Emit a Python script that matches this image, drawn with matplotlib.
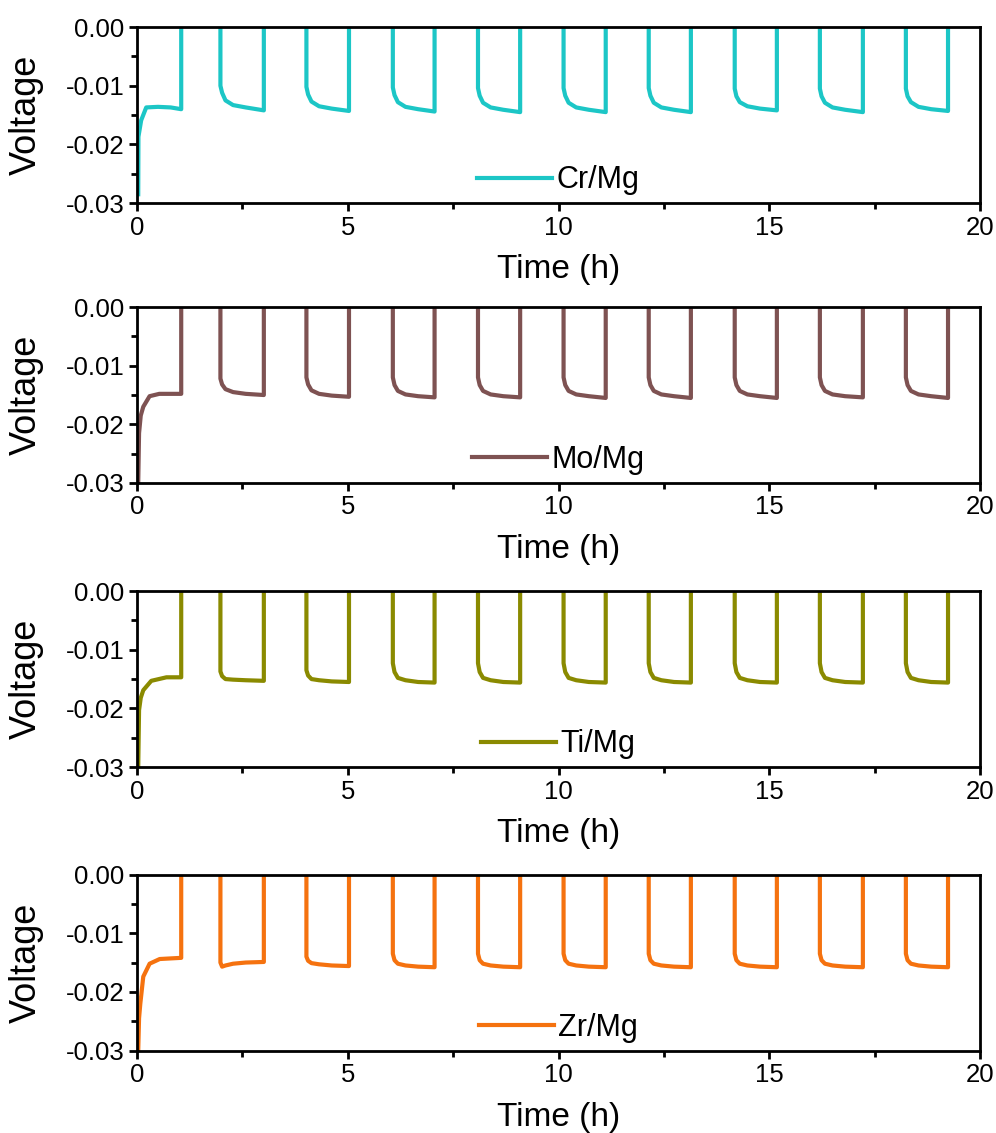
import matplotlib
matplotlib.use("Agg")
import matplotlib.pyplot as plt
from matplotlib.ticker import MultipleLocator

plt.rcParams['font.family'] = ['Liberation Sans', 'DejaVu Sans']

#times (h) where each rest ends (current switched on again) and where each step ends
step_on = [1.98, 4.02, 6.07, 8.09, 10.12, 12.14, 14.18, 16.20, 18.24]
step_off = [1.05, 3.01, 5.03, 7.06, 9.09, 11.12, 13.14, 15.18, 17.22, 19.24]
#voltage during the rests sits just above the top of the axis
rest_v = 0.001

#time after a step starts, at which the levels below are read
offsets = [0.0, 0.04, 0.12, 0.3, 0.6]

#first step of each cell
cr_init_t = [0.03, 0.035, 0.1, 0.22, 0.5, 0.8, 1.05]
cr_init_v = [-0.0285, -0.0187, -0.0159, -0.0137, -0.0136, -0.0137, -0.0140]
mo_init_t = [0.03, 0.05, 0.09, 0.15, 0.3, 0.53, 1.05]
mo_init_v = [-0.030, -0.0215, -0.0185, -0.0170, -0.0152, -0.0148, -0.0148]
ti_init_t = [0.03, 0.05, 0.09, 0.15, 0.34, 0.7, 1.05]
ti_init_v = [-0.030, -0.0203, -0.0182, -0.0169, -0.0153, -0.0147, -0.0147]
zr_init_t = [0.03, 0.05, 0.08, 0.15, 0.3, 0.54, 1.05]
zr_init_v = [-0.030, -0.0245, -0.0220, -0.0174, -0.0152, -0.0144, -0.0142]

#levels of the later steps: at the offsets above, then at the end of the step
cr_steps = [
    [-0.0100, -0.0112, -0.0125, -0.0133, -0.0137, -0.0142],
    [-0.0102, -0.0115, -0.0127, -0.0135, -0.0139, -0.0143],
    [-0.0103, -0.0116, -0.0128, -0.0136, -0.0140, -0.0144],
    [-0.0104, -0.0117, -0.0129, -0.0137, -0.0141, -0.0145],
    [-0.0104, -0.0117, -0.0129, -0.0137, -0.0141, -0.0145],
    [-0.0104, -0.0117, -0.0129, -0.0137, -0.0141, -0.0145],
    [-0.0105, -0.0118, -0.0128, -0.0135, -0.0139, -0.0142],
    [-0.0105, -0.0118, -0.0129, -0.0137, -0.0141, -0.0145],
    [-0.0105, -0.0118, -0.0128, -0.0136, -0.0140, -0.0143],
]
mo_steps = [
    [-0.0122, -0.0132, -0.0140, -0.0145, -0.0148, -0.0150],
    [-0.0120, -0.0132, -0.0142, -0.0148, -0.0151, -0.0153],
    [-0.0120, -0.0133, -0.0143, -0.0149, -0.0152, -0.0154],
    [-0.0120, -0.0133, -0.0143, -0.0149, -0.0152, -0.0154],
    [-0.0120, -0.0133, -0.0143, -0.0149, -0.0152, -0.0155],
    [-0.0120, -0.0133, -0.0143, -0.0149, -0.0152, -0.0155],
    [-0.0120, -0.0133, -0.0143, -0.0149, -0.0152, -0.0155],
    [-0.0120, -0.0133, -0.0143, -0.0149, -0.0152, -0.0154],
    [-0.0120, -0.0133, -0.0143, -0.0149, -0.0152, -0.0155],
]
ti_steps = [
    [-0.0137, -0.0145, -0.0150, -0.0151, -0.0152, -0.0153],
    [-0.0135, -0.0144, -0.0150, -0.0152, -0.0154, -0.0155],
    [-0.0123, -0.0138, -0.0148, -0.0152, -0.0155, -0.0156],
    [-0.0123, -0.0138, -0.0148, -0.0152, -0.0155, -0.0156],
    [-0.0123, -0.0138, -0.0148, -0.0152, -0.0155, -0.0156],
    [-0.0123, -0.0138, -0.0148, -0.0152, -0.0155, -0.0156],
    [-0.0123, -0.0138, -0.0148, -0.0152, -0.0155, -0.0156],
    [-0.0123, -0.0138, -0.0148, -0.0152, -0.0155, -0.0156],
    [-0.0123, -0.0138, -0.0148, -0.0152, -0.0155, -0.0156],
]
zr_steps = [
    [-0.0150, -0.0157, -0.0155, -0.0152, -0.0150, -0.0149],
    [-0.0140, -0.0147, -0.0151, -0.0153, -0.0155, -0.0156],
    [-0.0135, -0.0146, -0.0152, -0.0155, -0.0157, -0.0158],
    [-0.0135, -0.0146, -0.0152, -0.0155, -0.0157, -0.0158],
    [-0.0135, -0.0146, -0.0152, -0.0155, -0.0157, -0.0158],
    [-0.0135, -0.0146, -0.0152, -0.0155, -0.0157, -0.0158],
    [-0.0135, -0.0146, -0.0152, -0.0155, -0.0157, -0.0158],
    [-0.0135, -0.0146, -0.0152, -0.0155, -0.0157, -0.0158],
    [-0.0135, -0.0146, -0.0152, -0.0155, -0.0157, -0.0158],
]

labels = ["Cr/Mg", "Mo/Mg", "Ti/Mg", "Zr/Mg"]
colors = ["#1CC6C6", "#7E5252", "#8A8A00", "#F5720F"]


#join the first step, the rests and the later steps into one trace
def trace(init_t, init_v, steps):
    t = list(init_t)
    v = list(init_v)
    t.append(step_off[0])
    v.append(rest_v)
    for i, levels in enumerate(steps):
        start = step_on[i]
        t.append(start)
        v.append(rest_v)
        for dt, lv in zip(offsets, levels[:-1]):
            t.append(start + dt)
            v.append(lv)
        t.append(step_off[i + 1])
        v.append(levels[-1])
        t.append(step_off[i + 1])
        v.append(rest_v)
    return t, v


traces = [
    trace(cr_init_t, cr_init_v, cr_steps),
    trace(mo_init_t, mo_init_v, mo_steps),
    trace(ti_init_t, ti_init_v, ti_steps),
    trace(zr_init_t, zr_init_v, zr_steps),
]

fig = plt.figure(figsize=(9.96, 11.33), dpi=100)
bottoms = [0.8208, 0.5737, 0.3230, 0.0728]

for (t, v), lab, col, b in zip(traces, labels, colors, bottoms):
    ax = fig.add_axes([0.1375, b, 0.8465, 0.1553])
    ax.plot(t, v, color=col, lw=3.0, label=lab, solid_joinstyle='round')
    ax.set_xlim(0, 20)
    ax.set_ylim(-0.03, 0.0)
    ax.xaxis.set_major_locator(MultipleLocator(5))
    ax.xaxis.set_minor_locator(MultipleLocator(2.5))
    ax.yaxis.set_minor_locator(MultipleLocator(0.005))
    ax.set_yticks([0.0, -0.01, -0.02, -0.03])
    ax.set_yticklabels(["0.00", "-0.01", "-0.02", "-0.03"])
    ax.tick_params(which='major', direction='out', length=6, width=2, labelsize=18.5, pad=3)
    ax.tick_params(which='minor', direction='out', length=4, width=2)
    for s in ax.spines.values():
        s.set_linewidth(2.0)
        s.set_zorder(5)
    ax.set_xlabel("Time (h)", fontsize=24)
    ax.xaxis.set_label_coords(0.5, -0.29)
    ax.set_ylabel("Voltage", fontsize=26)
    ax.yaxis.set_label_coords(-0.11, 0.5)
    ax.legend(loc='lower center', bbox_to_anchor=(0.5, -0.025), frameon=False,
              fontsize=22, handlelength=2.45, handletextpad=0.15, borderaxespad=0.0)

fig.savefig("out.png", dpi=100)
